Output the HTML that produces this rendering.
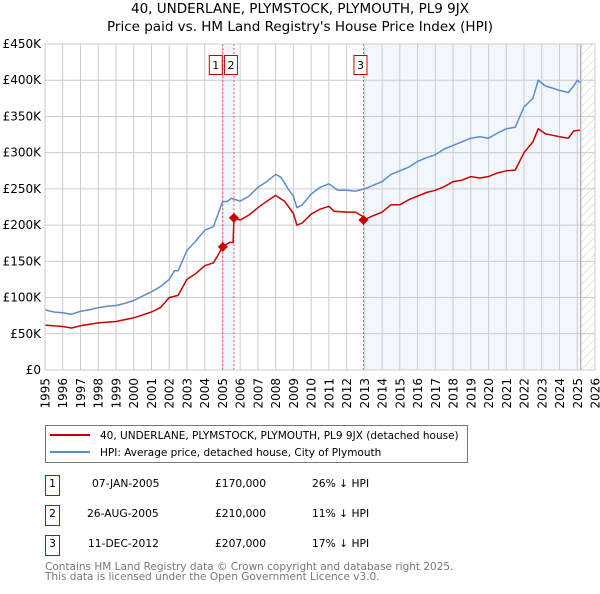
<!DOCTYPE html>
<html><head><meta charset="utf-8"><style>
body{margin:0;background:#fff;font-family:"DejaVu Sans","Liberation Sans",sans-serif;}
svg text{font-family:"DejaVu Sans","Liberation Sans",sans-serif;}
</style></head><body>
<svg id="c" width="600" height="590" viewBox="0 0 600 590" xmlns="http://www.w3.org/2000/svg">
<defs><pattern id="hatch" width="6" height="6" patternUnits="userSpaceOnUse" patternTransform="rotate(45)"><line x1="0" y1="0" x2="0" y2="6" stroke="#ccc" stroke-width="1"/></pattern></defs>
<text x="300" y="13" text-anchor="middle" font-size="13.5">40, UNDERLANE, PLYMSTOCK, PLYMOUTH, PL9 9JX</text>
<text x="300" y="31" text-anchor="middle" font-size="13.5">Price paid vs. HM Land Registry's House Price Index (HPI)</text>
<g id="plot"></g>
<g>
<rect x="45.5" y="425.5" width="422" height="37" fill="#fff" stroke="#777"/>
<line x1="50" y1="435" x2="90" y2="435" stroke="#cc0000" stroke-width="2"/>
<text x="100" y="439" font-size="10.5">40, UNDERLANE, PLYMSTOCK, PLYMOUTH, PL9 9JX (detached house)</text>
<line x1="50" y1="452" x2="90" y2="452" stroke="#5b8bd0" stroke-width="2"/>
<text x="100" y="456" font-size="10.5">HPI: Average price, detached house, City of Plymouth</text>
</g>
<g font-size="10.7">
<rect x="45.5" y="475.5" width="14" height="20" fill="none" stroke="#cc0000"/><text x="52.5" y="487" text-anchor="middle">1</text>
<text x="92" y="487">07-JAN-2005</text><text x="215" y="487">£170,000</text><text x="312" y="487">26% ↓ HPI</text>
<rect x="45.5" y="505.5" width="14" height="20" fill="none" stroke="#cc0000"/><text x="52.5" y="517" text-anchor="middle">2</text>
<text x="87" y="517">26-AUG-2005</text><text x="215" y="517">£210,000</text><text x="312" y="517">11% ↓ HPI</text>
<rect x="45.5" y="535.5" width="14" height="20" fill="none" stroke="#cc0000"/><text x="52.5" y="547" text-anchor="middle">3</text>
<text x="88" y="547">11-DEC-2012</text><text x="215" y="547">£207,000</text><text x="312" y="547">17% ↓ HPI</text>
</g>
<text x="45" y="570" font-size="10.5" fill="#777">Contains HM Land Registry data © Crown copyright and database right 2025.</text>
<text x="45" y="580" font-size="10.5" fill="#777">This data is licensed under the Open Government Licence v3.0.</text>
</svg>
<script>
const yTicks=[0,50,100,150,200,250,300,350,400,450];
const yTickLabels=["£0","£50K","£100K","£150K","£200K","£250K","£300K","£350K","£400K","£450K"];
const xYears=[1995,1996,1997,1998,1999,2000,2001,2002,2003,2004,2005,2006,2007,2008,2009,2010,2011,2012,2013,2014,2015,2016,2017,2018,2019,2020,2021,2022,2023,2024,2025,2026];
const hpiT=[1995,1995.5,1996,1996.5,1997,1997.5,1998,1998.5,1999,1999.5,2000,2000.5,2001,2001.5,2002,2002.3,2002.5,2003,2003.5,2004,2004.5,2005,2005.3,2005.5,2006,2006.5,2007,2007.5,2008,2008.3,2008.7,2009,2009.2,2009.5,2010,2010.5,2011,2011.5,2012,2012.5,2013,2013.5,2014,2014.5,2015,2015.5,2016,2016.5,2017,2017.5,2018,2018.5,2019,2019.5,2020,2020.5,2021,2021.5,2022,2022.5,2022.8,2023.2,2023.5,2024,2024.5,2024.8,2025,2025.15];
const hpiV=[83,80,79,77,81,83,86,88,89,92,96,102,108,115,125,137,137,165,178,193,198,232,233,237,233,240,252,260,270,266,250,240,224,228,243,252,257,248,248,247,250,255,260,270,275,280,288,293,297,305,310,315,320,322,320,327,333,335,363,375,400,392,390,386,383,392,400,397];
const ppT=[1995,1996,1996.5,1997,1998,1999,2000,2001,2001.5,2002,2002.5,2003,2003.5,2004,2004.5,2005.02,2005.4,2005.6,2005.65,2006,2006.5,2007,2007.5,2008,2008.5,2009,2009.2,2009.5,2010,2010.5,2011,2011.3,2012,2012.5,2012.9,2012.95,2013.5,2014,2014.5,2015,2015.5,2016,2016.5,2017,2017.5,2018,2018.5,2019,2019.5,2020,2020.5,2021,2021.5,2022,2022.5,2022.8,2023.2,2024,2024.5,2024.8,2025.15];
const ppV=[62,60,58,61,65,67,72,80,86,100,103,125,133,144,148,170,176,176,210,207,214,224,233,241,233,216,200,203,215,222,226,219,218,218,212,207,213,218,228,228,235,240,245,248,253,260,262,267,265,267,272,275,276,300,315,333,326,322,320,330,331];
const saleT=[2005.02,2005.65,2012.95];
const saleV=[170,210,207];
const saleLabels=["1","2","3"];
const X0=45,X1=595,Y0=370,Y1=44;
const xs=t=>X0+(t-1995)/(2026-1995)*(X1-X0);
const ys=v=>Y0-v/450*(Y0-Y1);
const NS="http://www.w3.org/2000/svg";
const g=document.getElementById('plot');
function el(tag,a){const e=document.createElementNS(NS,tag);for(const k in a)e.setAttribute(k,a[k]);g.appendChild(e);return e;}
let e;
e=el('rect',{x:xs(saleT[0]),y:Y1,width:xs(saleT[1])-xs(saleT[0]),height:Y0-Y1,fill:'#eef3fc',opacity:0.8});


e=el('rect',{x:xs(saleT[2]),y:Y1,width:xs(2025.2)-xs(saleT[2]),height:Y0-Y1,fill:'#f2f6fd'});


e=el('rect',{x:xs(2025.2),y:Y1,width:X1-xs(2025.2),height:Y0-Y1,fill:'url(#hatch)'});


yTicks.forEach((v,i)=>{
 e=el('line',{x1:X0,x2:X1,y1:ys(v),y2:ys(v),stroke:'#ccc','stroke-width':1});
 
 
 e=el('text',{x:X0-4,y:ys(v)+4,'text-anchor':'end','font-size':12});e.textContent=yTickLabels[i];
 
 
});
xYears.forEach(t=>{
 e=el('line',{x1:xs(t),x2:xs(t),y1:Y1,y2:Y0,stroke:'#ccc','stroke-width':1});
 
 
 const tx=xs(t)+4.5,ty=Y0+8;
 e=el('text',{x:tx,y:ty,'font-size':12,'text-anchor':'end',transform:'rotate(-90,'+tx+','+ty+')'});e.textContent=t;
 
 
});
e=el('line',{x1:xs(2025.2),x2:xs(2025.2),y1:Y1,y2:Y0,stroke:'#999','stroke-width':1});


saleT.forEach((t,i)=>{
 e=el('line',{x1:xs(t),x2:xs(t),y1:Y1,y2:Y0,stroke:'#f55','stroke-width':1,'stroke-dasharray':'2,2'});
 
 
});
function path(T,V,col,name){
 const d=T.map((t,i)=>(i?'L':'M')+xs(t).toFixed(1)+','+ys(V[i]).toFixed(1)).join('');
 e=el('path',{d:d,fill:'none',stroke:col,'stroke-width':1.5,'stroke-linejoin':'round'});
 
 
}
path(hpiT,hpiV,'#5b8bd0','hpi-line');
path(ppT,ppV,'#cc0000','price-paid-line');
saleT.forEach((t,i)=>{
 const x=xs(t),y=ys(saleV[i]);
 e=el('path',{d:`M${x},${y-5}L${x+5},${y}L${x},${y+5}L${x-5},${y}Z`,fill:'#cc0000'});
 
 
});
const lx=[xs(saleT[0])-7,xs(saleT[1])-3,xs(saleT[2])-3];
saleLabels.forEach((s,i)=>{
 const x=lx[i];
 e=el('rect',{x:x-6.5,y:55.5,width:13,height:19,fill:'#fff',stroke:'#cc0000'});
 
 
 e=el('text',{x:x,y:69,'text-anchor':'middle','font-size':11});e.textContent=s;
 
 
});
e=el('rect',{x:X0,y:Y1,width:X1-X0,height:Y0-Y1,fill:'none',stroke:'#ccc'});


</script>
</body></html>
